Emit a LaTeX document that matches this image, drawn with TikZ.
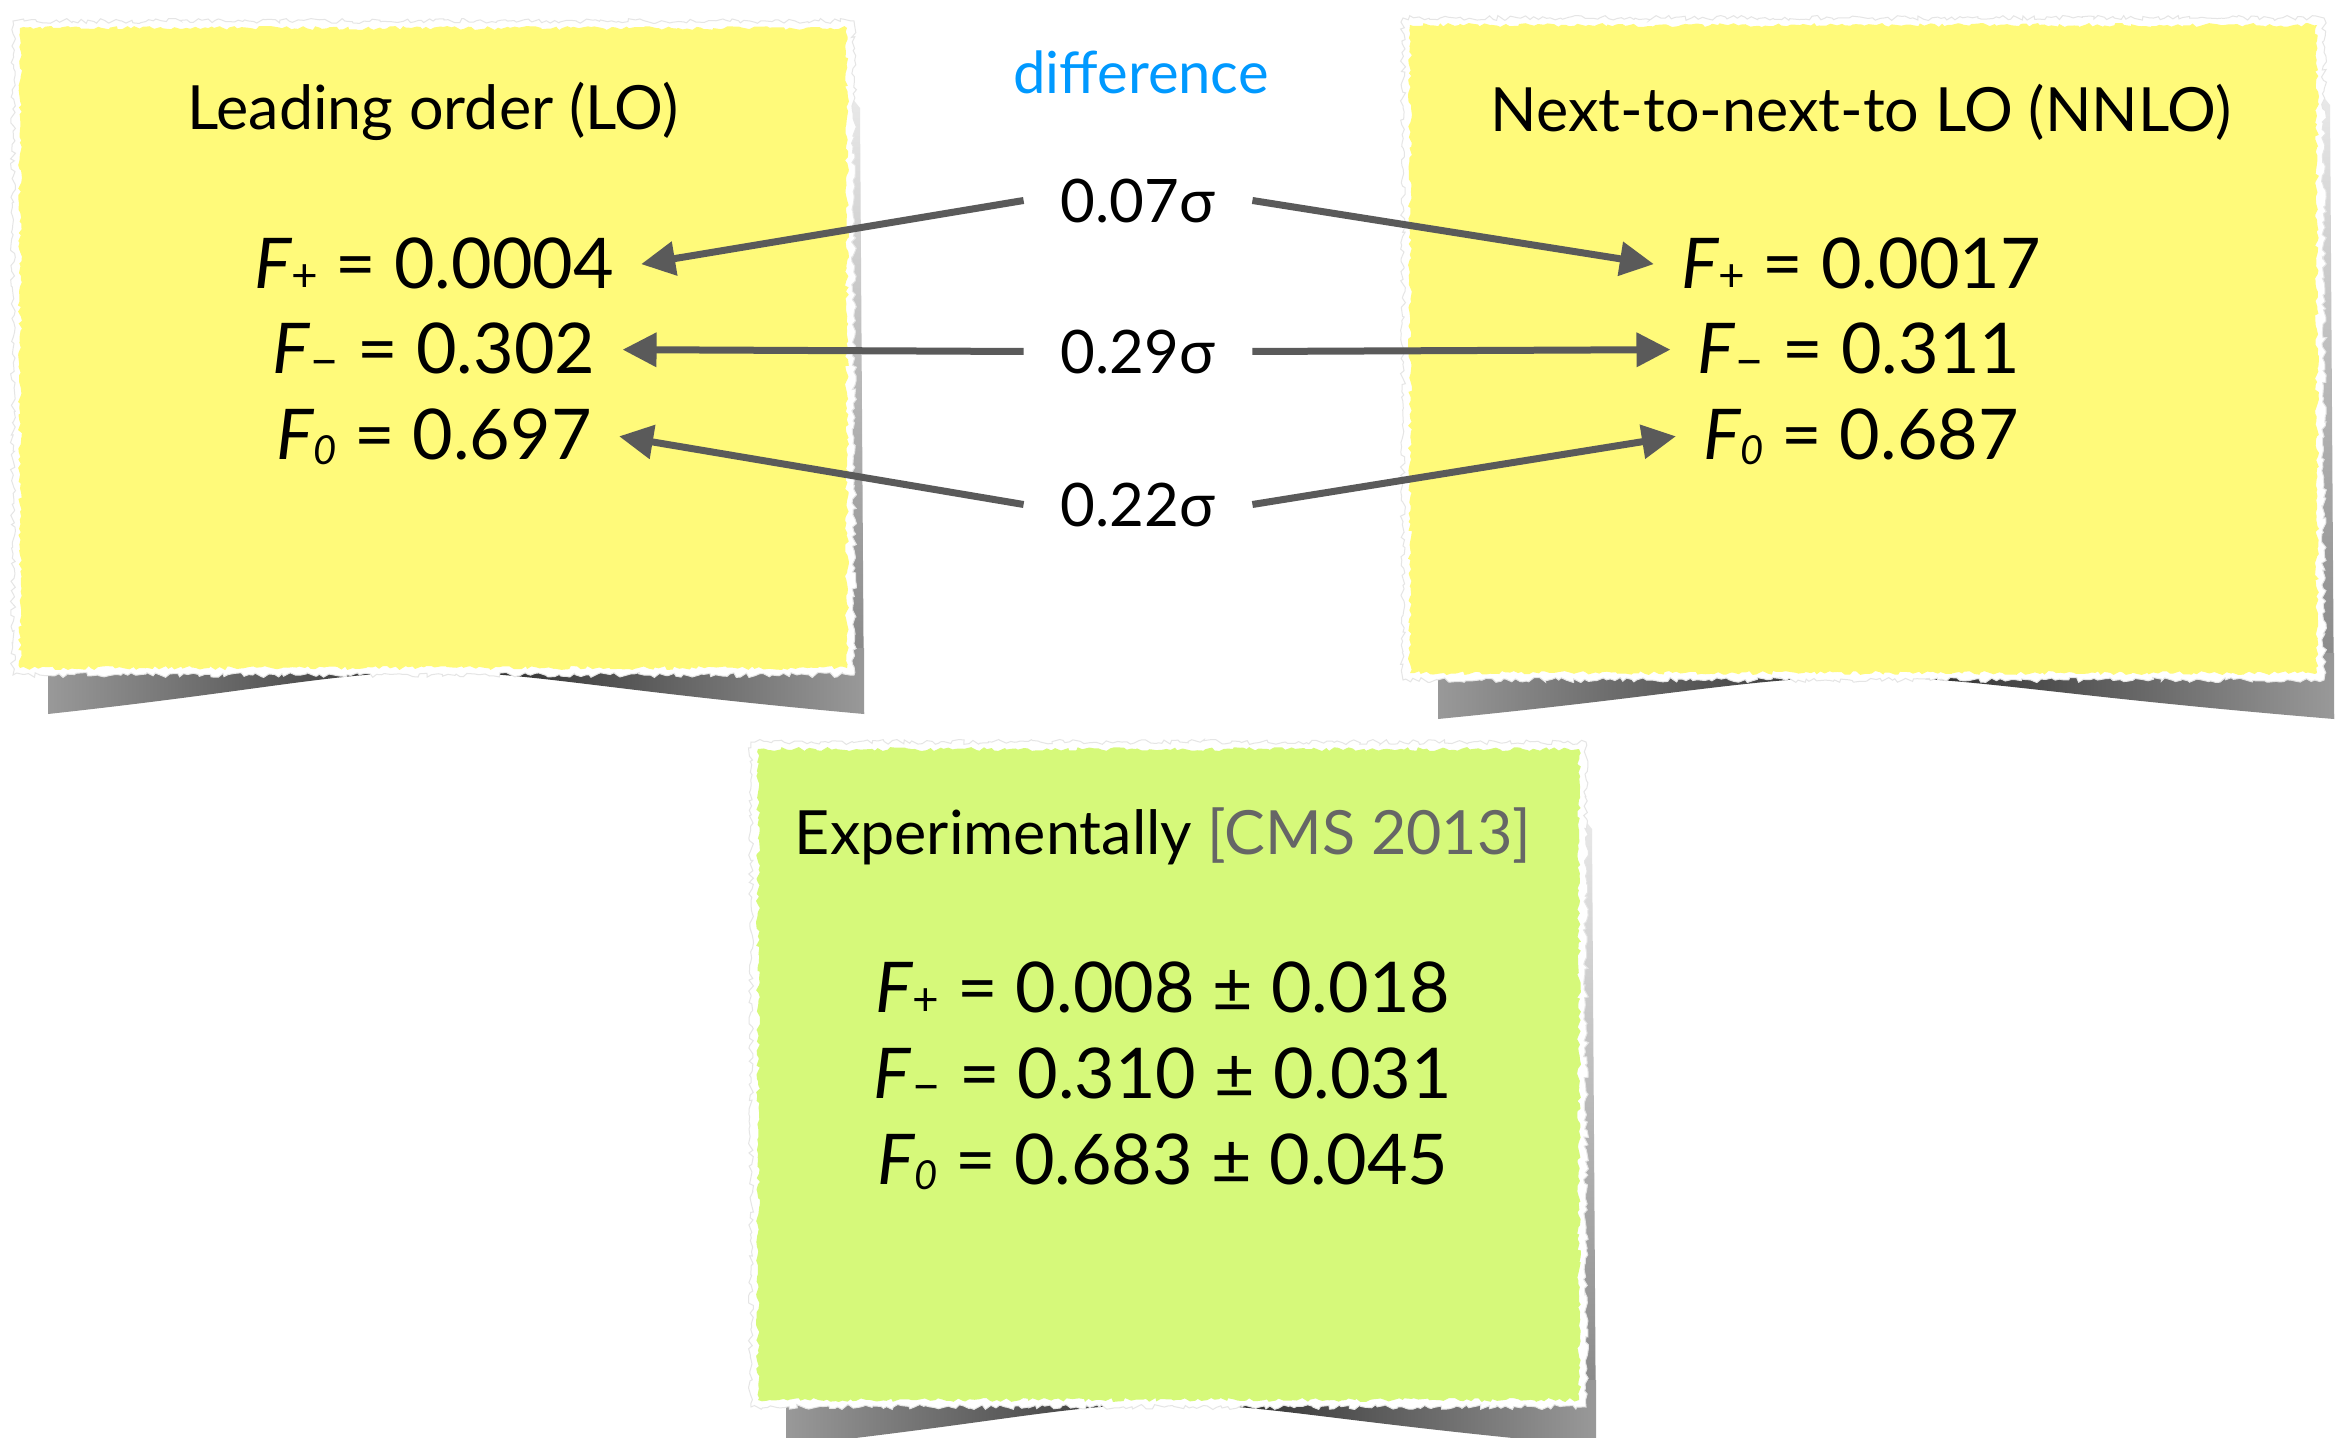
\documentclass[tikz,border=0pt]{standalone}
\usepackage{fontspec}
\setmainfont{Lato}
\usetikzlibrary{arrows.meta,decorations.pathmorphing}

\definecolor{noteyellow}{HTML}{FFFA7A}
\definecolor{notegreen}{HTML}{D6F97A}
\definecolor{arrowgray}{HTML}{5A5A5A}
\definecolor{diffblue}{HTML}{0099FF}
\definecolor{citegray}{HTML}{666666}

\newcommand{\Fp}{\textit{F}\kern-1pt\raisebox{-3pt}{\fontsize{46}{46}\selectfont +}}
\newcommand{\Fm}{\textit{F}\kern-1pt\raisebox{-4pt}{\fontsize{52}{52}\selectfont –}}
\newcommand{\Fz}{\textit{F}\kern-1pt\raisebox{-5pt}{\fontsize{40}{40}\selectfont\textit{0}}}

\tikzset{
 paper/.style={fill=white, draw=black!10, line width=1pt, decorate,
   decoration={random steps, segment length=4pt, amplitude=2.5pt}},
 sheet/.style={decorate, decoration={random steps, segment length=4pt, amplitude=2pt}},
 curlshadow/.style={left color=black!40, right color=black!40, middle color=black!85},
 sideshadow/.style={top color=black!8, bottom color=black!50},
 ttl/.style={anchor=base, inner sep=0pt, font=\fontsize{61}{66}\selectfont},
 val/.style={anchor=base, inner xsep=27pt, inner ysep=0pt, font=\fontsize{70}{80}\selectfont},
 sig/.style={anchor=base, inner xsep=37pt, inner ysep=0pt, font=\fontsize{60}{70}\selectfont},
 conn/.style={draw=arrowgray, line width=7pt, -{Triangle[length=34pt,width=33pt]}},
}

% sticky note: x1 y1 x2 y2 colour
\newcommand{\stickynote}[5]{%
  \pgfmathsetmacro\nxa{#1+28}\pgfmathsetmacro\nxb{#3+17}%
  \pgfmathsetmacro\nxm{(#1+#3)/2}%
  \pgfmathsetmacro\nca{#1+0.3*(#3-#1)}\pgfmathsetmacro\ncb{\nxm-0.12*(#3-#1)}%
  \pgfmathsetmacro\ncc{\nxm+0.12*(#3-#1)}\pgfmathsetmacro\ncd{#3-0.3*(#3-#1)}%
  \pgfmathsetmacro\nyt{#4-20}\pgfmathsetmacro\nyc{#4+46}\pgfmathsetmacro\nyk{#4+22}%
  \pgfmathsetmacro\nym{#4+4}%
  \pgfmathsetmacro\nsa{#3-3}\pgfmathsetmacro\nsb{#3+13}\pgfmathsetmacro\nsc{#2+60}\pgfmathsetmacro\nsd{#2+80}%
  \path[sideshadow] (\nsa,\nsc) -- (\nsb,\nsd) -- (\nxb,\nyc) -- (\nsa,#4) -- cycle;
  \path[curlshadow] (\nxa,\nyt) -- (\nxa,\nyc)
     .. controls (\nca,\nyk) and (\ncb,\nym) .. (\nxm,\nym)
     .. controls (\ncc,\nym) and (\ncd,\nyk) .. (\nxb,\nyc)
     -- (\nxb,\nyt) -- cycle;
  \path[paper] ({#1-7},{#2-7}) rectangle ({#3+7},{#4+7});
  \path[sheet, fill=#5] (#1,#2) rectangle (#3,#4);
}

\begin{document}
\begin{tikzpicture}[x=1pt,y=-1pt]
\pgfmathsetseed{7}
\useasboundingbox (0,0) rectangle (2344,1437);
\fill[white] (0,0) rectangle (2344,1437);

% note papers
\stickynote{20}{28}{847}{668}{noteyellow}
\stickynote{1410}{25}{2317}{673}{noteyellow}
\stickynote{758}{749}{1579}{1400}{notegreen}

% left note
\node[ttl] (lt) at (433,129) {Leading order (LO)};
\node[val] (l1) at (434,288) {\Fp{} = 0.0004};
\node[val] (l2) at (434,373) {\Fm{} = 0.302};
\node[val] (l3) at (434,459) {\Fz{} = 0.697};

% right note
\node[ttl] (rt) at (1861,131) {Next-to-next-to LO (NNLO)};
\node[val] (r1) at (1861,288) {\Fp{} = 0.0017};
\node[val] (r2) at (1859,373) {\Fm{} = 0.311};
\node[val] (r3) at (1861,459) {\Fz{} = 0.687};

% bottom note
\node[ttl] (bt) at (1163,854) {Experimentally {\color{citegray}[CMS 2013]}};
\node[val] (b1) at (1163,1012) {\Fp{} = 0.008 ± 0.018};
\node[val] (b2) at (1163,1098) {\Fm{} = 0.310 ± 0.031};
\node[val] (b3) at (1163,1184) {\Fz{} = 0.683 ± 0.045};

% middle
\node[ttl, text=diffblue, font=\fontsize{58}{60}\selectfont] (diff) at (1141,93) {difference};
\node[sig] (s1) at (1138,222) {0.07σ};
\node[sig] (s2) at (1138,373) {0.29σ};
\node[sig] (s3) at (1138,526) {0.22σ};

\draw[conn] (s1.west) -- (l1.east);
\draw[conn] (s2.west) -- (l2.east);
\draw[conn] (s3.west) -- (l3.east);
\draw[conn] (s1.east) -- (r1.west);
\draw[conn] (s2.east) -- (r2.west);
\draw[conn] (s3.east) -- (r3.west);
\end{tikzpicture}
\end{document}
